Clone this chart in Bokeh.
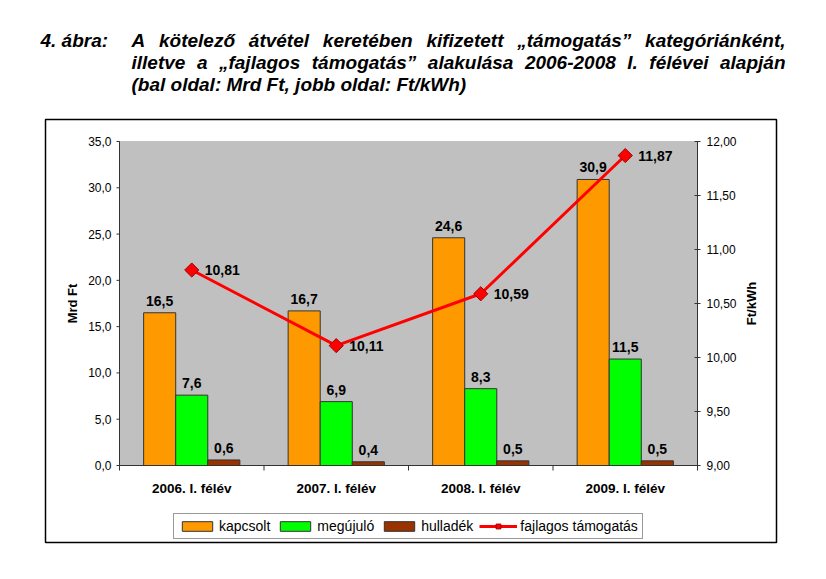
import math
from bokeh.plotting import figure
from bokeh.layouts import column, row
from bokeh.models import (Range1d, ColumnDataSource, Label, Legend, LegendItem, Spacer,
                          BoxAnnotation)
from bokeh.core.properties import value
from bokeh.embed import file_html
from bokeh.resources import INLINE

# ---- data ----
categories = ["2006. I. félév", "2007. I. félév", "2008. I. félév", "2009. I. félév"]
kapcsolt = [16.5, 16.7, 24.6, 30.9]
megujulo = [7.6, 6.9, 8.3, 11.5]
hulladek = [0.6, 0.4, 0.5, 0.5]
fajlagos = [10.81, 10.11, 10.59, 11.87]
left_ticks = [0, 5, 10, 15, 20, 25, 30, 35]
right_ticks = [9.0, 9.5, 10.0, 10.5, 11.0, 11.5, 12.0]
left_axis_title = "Mrd Ft"
right_axis_title = "Ft/kWh"

fig_label = "4. ábra:"
title_lines = [
    "A kötelező átvétel keretében kifizetett „támogatás” kategóriánként,",
    "illetve a „fajlagos támogatás” alakulása 2006-2008 I. félévei alapján",
    "(bal oldal: Mrd Ft, jobb oldal: Ft/kWh)",
]

FONT = "Liberation Sans"
BW = 0.222  # bar width in category units

def fmt1(v):
    return f"{v:.1f}".replace(".", ",")

def fmt2(v):
    return f"{v:.2f}".replace(".", ",")

NC = len(categories)
centers = [i + 0.5 for i in range(NC)]
L_MIN, L_MAX = left_ticks[0], left_ticks[-1]
R_MIN, R_MAX = right_ticks[0], right_ticks[-1]

# approximate advance widths (Liberation Sans Bold, per 1000 em) for justification
W = {" ": 278, "„": 500, "”": 500, "(": 333, ")": 333, ",": 278, "-": 333, ".": 278,
     "/": 278, ":": 333, "A": 722, "F": 611, "I": 278, "M": 833, "W": 944,
     "a": 556, "b": 611, "c": 556, "d": 611, "e": 556, "f": 333, "g": 611, "h": 611,
     "i": 278, "j": 278, "k": 556, "l": 278, "m": 889, "n": 611, "o": 611, "p": 611,
     "r": 389, "s": 556, "t": 333, "u": 611, "v": 556, "z": 500, "á": 556, "é": 556,
     "ó": 611, "ő": 611, "ú": 611, "ö": 611, "í": 278}

def text_w(s, size):
    return sum(W.get(ch, 556) for ch in s) * size / 1000.0

# ---------------- page geometry (page pixels, origin = top-left of page) -------------
FW, FH = 735, 427            # chart figure size
MB = 2                       # border inside chart figure
BOX_L, BOX_T = 45, 119       # chart box (frame) top-left on page
PL, PR, PT, PB = 119, 697, 141, 465   # plot area on page
BOX_R = BOX_L + FW - 2 * MB
BOX_B = BOX_T + FH - 2 * MB

# ---------------- title figure ----------------
TS = 19
TH = BOX_T - MB
t = figure(width=818, height=TH, output_backend="svg", toolbar_location=None,
           x_range=Range1d(0, 1), y_range=Range1d(0, 1), min_border=0,
           x_axis_location=None, y_axis_location=None,
           background_fill_color="white", border_fill_color="white")
t.grid.visible = False
t.outline_line_color = None

def tlabel(x, y, s):
    t.add_layout(Label(x=x, y=y, x_units="screen", y_units="screen", text=s,
                       text_font=FONT, text_font_style="bold italic", text_color="black",
                       text_font_size=f"{TS}px", text_baseline="alphabetic"))

tlabel(40, TH - 40, fig_label)
x_start, x_end = 131, 785
for i, line in enumerate(title_lines):
    y = TH - 40 - 22 * i
    if i < len(title_lines) - 1:
        words = line.split(" ")
        widths = [text_w(w, TS) for w in words]
        gap = (x_end - x_start - sum(widths)) / (len(words) - 1)
        x = x_start
        for w, wd in zip(words, widths):
            tlabel(x, y, w)
            x += wd + gap
    else:
        tlabel(x_start, y, line)

# ---------------- chart figure ----------------
sx = (PR - PL) / NC
sy = (PB - PT) / (L_MAX - L_MIN)
sr_ = (PB - PT) / (R_MAX - R_MIN)
xr = Range1d((BOX_L - PL) / sx, NC + (BOX_R - PR) / sx)
yr = Range1d(L_MIN - (BOX_B - PB) / sy, L_MAX + (PT - BOX_T) / sy)
rr = Range1d(R_MIN - (BOX_B - PB) / sr_, R_MAX + (PT - BOX_T) / sr_)

p = figure(width=FW, height=FH, output_backend="svg", toolbar_location=None,
           x_range=xr, y_range=yr, min_border=MB,
           x_axis_location=None, y_axis_location=None,
           background_fill_color="white", border_fill_color="white")
p.extra_y_ranges = {"r": rr}
p.outline_line_color = "black"
p.outline_line_width = 1.5
p.grid.visible = False

# plot area background
p.add_layout(BoxAnnotation(left=0, right=NC, bottom=L_MIN, top=L_MAX,
                           fill_color="#C0C0C0", fill_alpha=1,
                           line_color="#808080", line_width=1, level="underlay"))

series = [("kapcsolt", kapcsolt, "#FF9900", -BW),
          ("megújuló", megujulo, "#00FF00", 0.0),
          ("hulladék", hulladek, "#993300", BW)]
legend_items = []
for name, vals, color, off in series:
    src = ColumnDataSource(dict(x=[c + off for c in centers], top=vals,
                                lab=[fmt1(v) for v in vals]))
    r = p.vbar(x="x", top="top", width=BW, source=src, fill_color=color,
               line_color="#333333", line_width=1)
    p.text(x="x", y="top", text="lab", source=src, text_align="center",
           text_baseline="bottom", y_offset=-7, text_font=value(FONT),
           text_font_style="bold", text_font_size="14px", text_color="black")
    legend_items.append(LegendItem(label=name, renderers=[r]))

lsrc = ColumnDataSource(dict(x=centers, y=fajlagos, lab=[fmt2(v) for v in fajlagos]))
lr = p.line(x="x", y="y", source=lsrc, y_range_name="r", line_color="#FF0000", line_width=3)
mr = p.scatter(x="x", y="y", source=lsrc, y_range_name="r", marker="square", size=10,
               angle=math.pi / 4, fill_color="#FF0000", line_color="#990000", line_width=1)
p.text(x="x", y="y", text="lab", source=lsrc, y_range_name="r", text_align="left",
       text_baseline="middle", x_offset=13, text_font=value(FONT),
       text_font_style="bold", text_font_size="14px", text_color="black")
legend_items.append(LegendItem(label="fajlagos támogatás", renderers=[lr, mr]))

AX = "#333333"
# axis lines
p.segment(x0=[0, NC, 0], y0=[L_MIN, L_MIN, L_MIN], x1=[0, NC, NC], y1=[L_MAX, L_MAX, L_MIN],
          line_color=AX, line_width=1)
# left ticks + labels
tl = 3 / sx
lsrc_t = ColumnDataSource(dict(x0=[0 - tl] * len(left_ticks), x1=[0] * len(left_ticks),
                               y=left_ticks, lab=[fmt1(v) for v in left_ticks],
                               xl=[0] * len(left_ticks)))
p.segment(x0="x0", y0="y", x1="x1", y1="y", source=lsrc_t, line_color=AX, line_width=1)
p.text(x="xl", y="y", text="lab", source=lsrc_t, x_offset=-8, text_align="right",
       text_baseline="middle", text_font=value(FONT), text_font_size="12px",
       text_color="black")
# right ticks + labels
rsrc_t = ColumnDataSource(dict(x0=[NC - tl] * len(right_ticks), x1=[NC + tl] * len(right_ticks),
                               y=right_ticks, lab=[fmt2(v) for v in right_ticks],
                               xl=[NC] * len(right_ticks)))
p.segment(x0="x0", y0="y", x1="x1", y1="y", source=rsrc_t, y_range_name="r",
          line_color=AX, line_width=1)
p.text(x="xl", y="y", text="lab", source=rsrc_t, y_range_name="r", x_offset=9,
       text_align="left", text_baseline="middle", text_font=value(FONT),
       text_font_size="12px", text_color="black")
# bottom ticks at category boundaries + category labels
bt = list(range(NC + 1))
p.segment(x0=bt, y0=[L_MIN] * len(bt), x1=bt, y1=[L_MIN - 5 / sy] * len(bt),
          line_color=AX, line_width=1)
p.text(x=centers, y=[L_MIN] * NC, text=categories, y_offset=15, text_align="center",
       text_baseline="top", text_font=value(FONT), text_font_style="bold",
       text_font_size="13.5px", text_color="black")
# axis titles
mid = (L_MIN + L_MAX) / 2
p.text(x=[0], y=[mid], text=[left_axis_title], x_offset=-47, angle=math.pi / 2,
       text_align="center", text_baseline="middle", text_font=value(FONT),
       text_font_style="bold", text_font_size="13px", text_color="black")
p.text(x=[NC], y=[mid], text=[right_axis_title], x_offset=54, angle=math.pi / 2,
       text_align="center", text_baseline="middle", text_font=value(FONT),
       text_font_style="bold", text_font_size="13px", text_color="black")

legend = Legend(items=legend_items, orientation="horizontal",
                location=(173 - BOX_L, BOX_B - 539),
                glyph_width=38, glyph_height=12, label_standoff=3, spacing=6,
                padding=4, margin=0, label_text_font=FONT, label_text_font_size="14px",
                label_text_color="black",
                border_line_color="#333333", border_line_width=1,
                background_fill_color="white", background_fill_alpha=1)
p.add_layout(legend, "center")

layout = column(t, row(Spacer(width=BOX_L - MB, height=FH), p))
open("out.html", "w").write(file_html(layout, INLINE))
